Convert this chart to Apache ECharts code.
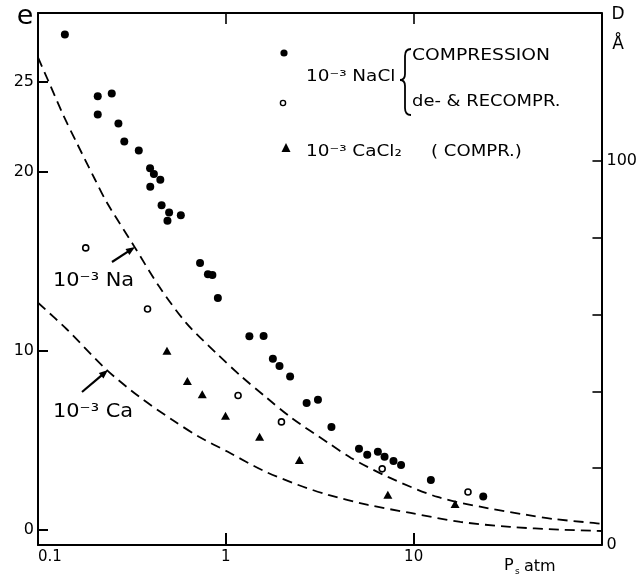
<!DOCTYPE html>
<html>
<head>
<meta charset="utf-8">
<script src="https://cdn.jsdelivr.net/npm/echarts@6/dist/echarts.min.js"></script>
<style>html,body{margin:0;padding:0;background:#fff}#c{width:640px;height:579px}</style>
</head>
<body>
<div id="c"></div>
<script>
// ---- data (P_s in atm, e = void ratio) ----
const naclCompression = [
  [0.139,27.65],[0.208,24.2],[0.247,24.36],[0.208,23.18],[0.268,22.68],[0.288,21.68],
  [0.344,21.17],[0.395,20.18],[0.414,19.86],[0.448,19.55],[0.396,19.16],[0.455,18.12],
  [0.499,17.71],[0.489,17.25],[0.576,17.56],[0.729,14.9],[0.803,14.27],[0.848,14.23],
  [0.907,12.94],[1.335,10.81],[1.589,10.82],[1.78,9.55],[1.931,9.15],[2.199,8.56],
  [2.693,7.09],[3.094,7.26],[3.651,5.74],[5.117,4.53],[5.66,4.19],[6.45,4.37],
  [7.0,4.09],[7.81,3.85],[8.57,3.63],[12.35,2.79],[23.47,1.86]
];
const naclRecompression = [
  [0.1795,15.74],[0.383,12.33],[1.162,7.5],[1.978,6.03],[6.8,3.41],[19.47,2.12]
];
const cacl2Compression = [
  [0.486,10.0],[0.624,8.31],[0.749,7.58],[0.996,6.37],[1.513,5.2],[2.463,3.91],
  [7.29,1.96],[16.62,1.45]
];
const theoryNa = [
  [0.1,26.37],[0.1157,24.86],[0.1356,23.2],[0.1608,21.6],[0.2002,19.6],[0.2318,18.3],
  [0.326,15.81],[0.4418,13.58],[0.6144,11.56],[0.8854,9.89],[1.215,8.55],[1.627,7.43],
  [2.235,6.26],[3.508,4.86],[4.642,4.02],[7.29,2.96],[13.4,1.84],[24.64,1.22],
  [40.1,0.84],[55.7,0.61],[90.7,0.39],[100,0.34]
];
const theoryCa = [
  [0.1,12.68],[0.1423,11.2],[0.2318,8.94],[0.3465,7.43],[0.518,6.15],[0.7197,5.2],
  [1.025,4.36],[1.589,3.3],[2.433,2.51],[3.508,1.96],[5.71,1.4],[9.64,0.95],
  [17.73,0.45],[32.6,0.17],[59.95,0.02],[100,-0.06]
];
const eTicks = [0, 10, 20, 25];
const dTicks = [0, 20, 40, 60, 80, 100];
const dLabels = [0, 100];

const FONT = 'DejaVu Sans';
const BLACK = '#000';
const axisLine = {show: true, onZero: false, lineStyle: {color: BLACK, width: 2}};

function txt(text, x, y, size, opts) {
  opts = opts || {};
  return {
    type: 'text', x: x, y: y, silent: true,
    scaleX: opts.sx || 1, scaleY: 1,
    style: {
      text: text, fill: BLACK,
      font: (opts.weight || 'normal') + ' ' + size + 'px "' + FONT + '"',
      textAlign: opts.align || 'left', align: opts.align || 'left',
      textVerticalAlign: 'middle', verticalAlign: 'middle'
    }
  };
}
function arrow(x1, y1, x2, y2) {
  const dx = x2 - x1, dy = y2 - y1, L = Math.hypot(dx, dy);
  const ux = dx / L, uy = dy / L, px = -uy, py = ux;
  const hl = 9, hw = 3.6;
  const bx = x2 - ux * hl, by = y2 - uy * hl;
  return [
    {type: 'line', silent: true, shape: {x1: x1, y1: y1, x2: bx + ux, y2: by + uy},
     style: {stroke: BLACK, lineWidth: 2.2}},
    {type: 'polygon', silent: true,
     shape: {points: [[x2, y2], [bx + px * hw, by + py * hw], [bx - px * hw, by - py * hw]]},
     style: {fill: BLACK}}
  ];
}
function curve(x1, y1, cx, cy, x2, y2) {
  return {type: 'bezierCurve', silent: true,
    shape: {x1: x1, y1: y1, cpx1: cx, cpy1: cy, x2: x2, y2: y2},
    style: {fill: null, stroke: BLACK, lineWidth: 1.8}};
}
function seg(x1, y1, x2, y2) {
  return {type: 'line', silent: true, shape: {x1: x1, y1: y1, x2: x2, y2: y2},
    style: {stroke: BLACK, lineWidth: 1.8}};
}
const brace = [
  curve(411, 49, 405, 49, 405, 56), seg(405, 56, 405, 74),
  curve(405, 74, 405, 80, 400, 80), curve(400, 80, 405, 80, 405, 86),
  seg(405, 86, 405, 108), curve(405, 108, 405, 115, 411, 115)
];

const chart = echarts.init(document.getElementById('c'), null, {renderer: 'canvas'});
const option = {
  animation: false,
  backgroundColor: '#fff',
  grid: {left: 38, right: 35, top: 13, bottom: 34},
  xAxis: [{
    type: 'log', logBase: 10, min: 0.1, max: 100, position: 'bottom',
    axisLine: axisLine,
    axisTick: {show: true, inside: true, length: 12, lineStyle: {color: BLACK, width: 2}},
    minorTick: {show: false}, splitLine: {show: false},
    axisLabel: {
      color: BLACK, fontFamily: FONT, fontSize: 15, margin: 5, alignMinLabel: 'left',
      formatter: function (v) { if (v >= 99) return ''; return v < 0.5 ? '0.1' : String(Math.round(v)); }
    }
  }, {
    type: 'log', logBase: 10, min: 0.1, max: 100, position: 'top',
    axisLine: axisLine,
    axisTick: {show: true, inside: true, length: 11, lineStyle: {color: BLACK, width: 1.6}},
    minorTick: {show: false}, splitLine: {show: false}, axisLabel: {show: false}
  }],
  yAxis: [{
    type: 'value', min: -0.84, max: 28.85, position: 'left',
    axisLine: axisLine,
    axisTick: {show: true, inside: true, length: 10, customValues: eTicks, lineStyle: {color: BLACK, width: 2}},
    axisLabel: {customValues: eTicks, color: BLACK, fontFamily: FONT, fontSize: 16, margin: 4},
    splitLine: {show: false}
  }, {
    type: 'value', min: 0, max: 138.5, position: 'right',
    axisLine: axisLine,
    axisTick: {show: true, inside: true, length: 9, customValues: dTicks, lineStyle: {color: BLACK, width: 1.6}},
    axisLabel: {customValues: dLabels, color: BLACK, fontFamily: FONT, fontSize: 16, margin: 5},
    splitLine: {show: false}
  }],
  series: [
    {name: '10⁻³ Na theory', type: 'line', data: theoryNa, xAxisIndex: 0, yAxisIndex: 0,
     showSymbol: false, symbol: 'none', smooth: 0.3, silent: true,
     lineStyle: {color: BLACK, width: 1.8, type: [10, 6]}},
    {name: '10⁻³ Ca theory', type: 'line', data: theoryCa, xAxisIndex: 0, yAxisIndex: 0,
     showSymbol: false, symbol: 'none', smooth: 0.3, silent: true,
     lineStyle: {color: BLACK, width: 1.8, type: [10, 6]}},
    {name: 'NaCl compression', type: 'scatter', data: naclCompression, symbol: 'circle', symbolSize: 8,
     itemStyle: {color: BLACK, opacity: 1}},
    {name: 'NaCl de- & recompression', type: 'scatter', data: naclRecompression, symbol: 'circle', symbolSize: 6,
     itemStyle: {color: '#fff', borderColor: BLACK, borderWidth: 1.6, opacity: 1}},
    {name: 'CaCl2 compression', type: 'scatter', data: cacl2Compression, symbol: 'triangle', symbolSize: [9, 8],
     itemStyle: {color: BLACK, opacity: 1}}
  ],
  graphic: [].concat([
    txt('e', 25, 17, 27, {align: 'center'}),
    txt('D', 618, 15, 17, {align: 'center'}),
    txt('Å', 618, 45, 17, {align: 'center'}),
    txt('P', 504, 566, 16),
    txt('s', 515, 572, 9),
    txt('atm', 524, 567, 16),
    // legend
    {type: 'circle', silent: true, shape: {cx: 284, cy: 53, r: 3.6}, style: {fill: BLACK}},
    {type: 'circle', silent: true, shape: {cx: 283, cy: 103, r: 2.6}, style: {fill: '#fff', stroke: BLACK, lineWidth: 1.4}},
    {type: 'polygon', silent: true, shape: {points: [[286, 143], [290.5, 152], [281.5, 152]]}, style: {fill: BLACK}},
    txt('10⁻³ NaCl', 306, 77, 16, {sx: 1.15}),
    txt('COMPRESSION', 412, 56, 16, {sx: 1.17}),
    txt('de- & RECOMPR.', 412, 102, 16, {sx: 1.12}),
    txt('10⁻³ CaCl₂', 306, 152, 16, {sx: 1.15}),
    txt('( COMPR.)', 431, 152, 16, {sx: 1.13}),
    // curve annotations
    txt('10⁻³ Na', 53, 281, 19, {sx: 1.1}),
    txt('10⁻³ Ca', 53, 412, 19, {sx: 1.1})
  ], brace, arrow(112, 262, 135, 247), arrow(82, 392, 108, 370))
};
chart.setOption(option);
</script>
</body>
</html>
